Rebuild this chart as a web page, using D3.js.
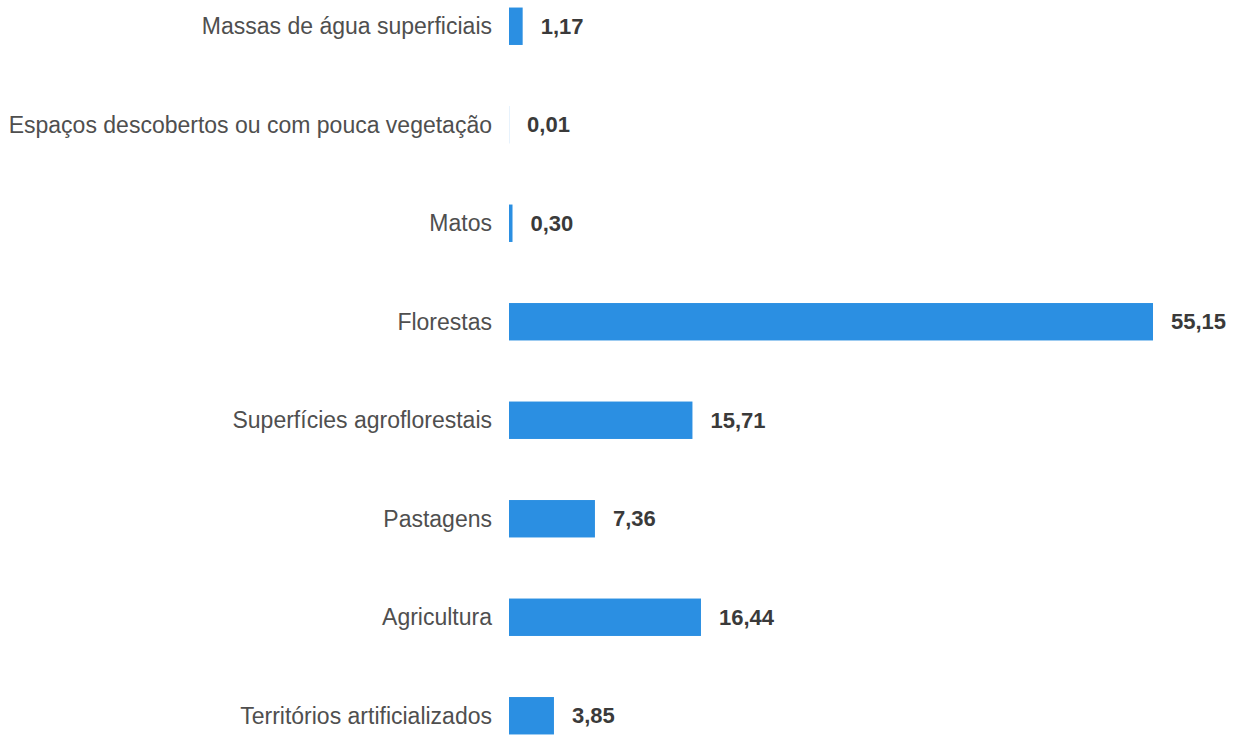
<!DOCTYPE html>
<html lang="pt">
<head>
<meta charset="utf-8">
<script src="https://cdn.jsdelivr.net/npm/d3@7"></script>
<style>
  html, body { margin: 0; padding: 0; background: #ffffff; }
  svg { display: block; }
</style>
</head>
<body>
<svg id="chart" width="1242" height="735"></svg>
<script>
// Uso e ocupação do solo (%)
const categories = [
  "Massas de água superficiais",
  "Espaços descobertos ou com pouca vegetação",
  "Matos",
  "Florestas",
  "Superfícies agroflorestais",
  "Pastagens",
  "Agricultura",
  "Territórios artificializados"
];
const values = [1.17, 0.01, 0.30, 55.15, 15.71, 7.36, 16.44, 3.85];

const rows = categories.map((c, i) => ({ category: c, value: values[i] }));

const svg = d3.select("#chart");
const fmt = v => d3.format(".2f")(v).replace(".", ",");

const x = d3.scaleLinear()
  .domain([0, d3.max(values)])
  .range([509, 1153]);

const y = d3.scaleBand()
  .domain(categories)
  .range([-23, 765])
  .paddingInner(0.62)
  .paddingOuter(0.31);

const font = "'Liberation Sans', Arial, sans-serif";

// bars
svg.append("g")
  .selectAll("rect")
  .data(rows)
  .join("rect")
  .attr("x", x(0))
  .attr("y", d => y(d.category))
  .attr("width", d => x(d.value) - x(0))
  .attr("height", y.bandwidth())
  .attr("fill", "#2b8fe2");

// category axis labels
svg.append("g")
  .selectAll("text")
  .data(rows)
  .join("text")
  .attr("x", x(0) - 17)
  .attr("y", d => y(d.category) + y.bandwidth() / 2)
  .attr("dy", "0.35em")
  .attr("text-anchor", "end")
  .attr("font-family", font)
  .attr("font-size", 23)
  .attr("fill", "#4f4f4f")
  .text(d => d.category);

// value labels
svg.append("g")
  .selectAll("text")
  .data(rows)
  .join("text")
  .attr("x", d => x(d.value) + 18)
  .attr("y", d => y(d.category) + y.bandwidth() / 2)
  .attr("dy", "0.35em")
  .attr("text-anchor", "start")
  .attr("font-family", font)
  .attr("font-size", 22)
  .attr("font-weight", "bold")
  .attr("fill", "#3a3a3a")
  .text(d => fmt(d.value));
</script>
</body>
</html>
